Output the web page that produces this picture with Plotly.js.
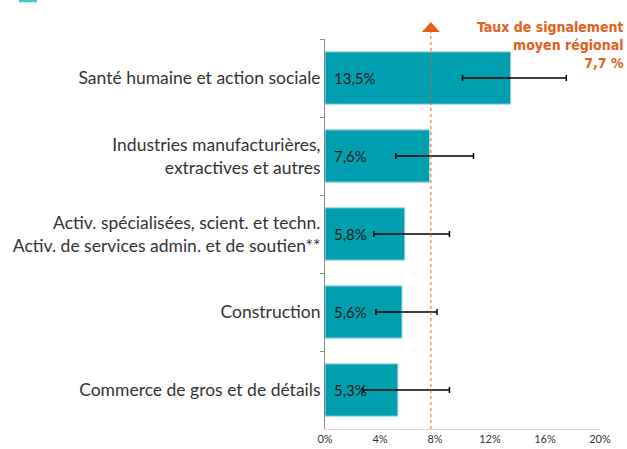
<!DOCTYPE html>
<html>
<head>
<meta charset="utf-8">
<script src="https://cdn.plot.ly/plotly-3.0.1.min.js"></script>
<style>html,body{margin:0;padding:0;background:#fff;}#chart{width:627px;height:449px;}</style>
</head>
<body>
<div id="chart"></div>
<script>
const categories = [
  "Santé humaine et action sociale",
  "Industries manufacturières,<br>extractives et autres",
  "Activ. spécialisées, scient. et techn.<br>Activ. de services admin. et de soutien**",
  "Construction",
  "Commerce de gros et de détails"
];
const values = [13.5, 7.6, 5.8, 5.6, 5.3];
const valueLabels = ["13,5%", "7,6%", "5,8%", "5,6%", "5,3%"];
const ciLow = [10.0, 5.15, 3.55, 3.7, 2.75];
const ciHigh = [17.55, 10.8, 9.05, 8.15, 9.05];
const regionalMean = 7.7;
const meanLabel = "Taux de signalement<br>moyen régional<br>7,7 %";
const xTicks = [0, 4, 8, 12, 16, 20];
const xTickText = ["0%", "4%", "8%", "12%", "16%", "20%"];

const orange = "#E4601A";
const teal = "#009FB0";

const trace = {
  type: "bar",
  orientation: "h",
  y: categories,
  x: values,
  marker: {color: teal, line: {color: "#9fd8df", width: 1}},
  error_x: {
    type: "data",
    symmetric: false,
    array: values.map((v, i) => ciHigh[i] - v),
    arrayminus: values.map((v, i) => v - ciLow[i]),
    color: "#000",
    thickness: 1.5,
    width: 3
  },
  hoverinfo: "none",
  cliponaxis: false
};

const valueAnnotations = categories.map((c, i) => ({
  xref: "x", yref: "y",
  x: 0, y: c,
  xanchor: "left", yanchor: "middle",
  xshift: 7,
  showarrow: false,
  text: valueLabels[i],
  font: {family: "Lato, sans-serif", size: 15, color: "#1a1a1a"}
}));

const layout = {
  width: 627,
  height: 449,
  margin: {l: 325, r: 27, t: 39, b: 20},
  paper_bgcolor: "#fff",
  plot_bgcolor: "#fff",
  showlegend: false,
  bargap: 0.33,
  xaxis: {
    range: [0, 20],
    tickvals: xTicks,
    ticktext: xTickText,
    showgrid: false,
    zeroline: false,
    showline: true,
    linecolor: "#d9d9d9",
    linewidth: 1,
    ticks: "",
    tickfont: {family: "Lato, sans-serif", size: 11, color: "#333"},
    automargin: false,
    fixedrange: true
  },
  yaxis: {
    type: "category",
    categoryorder: "array",
    categoryarray: categories,
    autorange: "reversed",
    showgrid: false,
    zeroline: false,
    showline: true,
    linecolor: "#8c8c8c",
    linewidth: 1,
    ticks: "outside",
    tickson: "boundaries",
    ticklen: 4,
    tickcolor: "#8c8c8c",
    tickfont: {family: "Lato, sans-serif", size: 17.5, color: "#333"},
    automargin: false,
    fixedrange: true
  },
  shapes: [
    {
      type: "line", xref: "x", yref: "paper",
      x0: regionalMean, x1: regionalMean, y0: 0, y1: 1.02,
      line: {color: orange, width: 1, dash: "dot"}
    },
    {
      type: "path", xref: "x", yref: "paper",
      xsizemode: "pixel", ysizemode: "pixel",
      xanchor: regionalMean, yanchor: 1.018,
      path: "M-9,0 L9,0 L0,10 Z",
      fillcolor: orange, line: {width: 0}
    },
    {
      type: "rect", xref: "paper", yref: "paper",
      x0: -1.113, x1: -1.047, y0: 1.094, y1: 1.1,
      fillcolor: "#49c6d6", line: {width: 0}
    }
  ],
  annotations: valueAnnotations.concat([
    {
      xref: "paper", yref: "paper",
      x: 1.095, y: 1.057,
      xanchor: "right", yanchor: "top",
      align: "right",
      showarrow: false,
      text: "<b>" + meanLabel + "</b>",
      font: {family: "'DejaVu Sans Condensed', sans-serif", size: 14, color: orange}
    }
  ])
};

Plotly.newPlot("chart", [trace], layout, {displayModeBar: false, staticPlot: true});
</script>
</body>
</html>
